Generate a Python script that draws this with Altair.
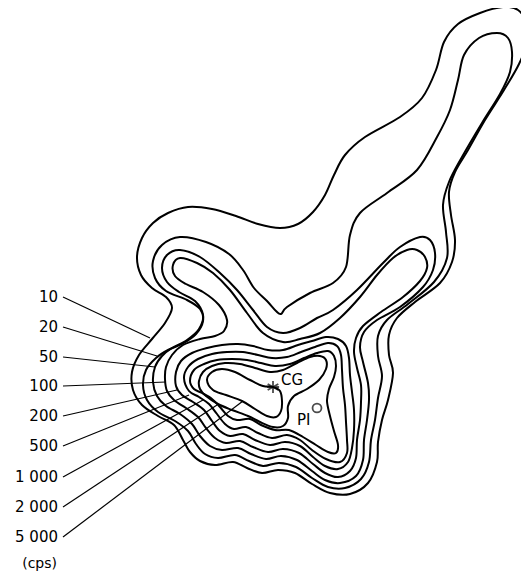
import altair as alt
import pandas as pd

# Contour traces (image pixel coordinates, x right, y down)
c10 = [(480,13),(503,7),(518,10),(527,24),(527,42),(519,64),(504,90),(485,120),(468,150),(455,172),(449,192),(451,215),(455,240),(452,262),(440,283),(415,302),(397,318),(389,335),(389,355),(393,373),(388,400),(382,420),(378,442),(377,462),(368,483),(350,494),(330,493),(312,484),(295,473),(278,470),(262,473),(247,468),(233,462),(215,465),(200,461),(190,452),(183,440),(174,425),(158,416),(142,405),(133,390),(132,372),(139,355),(152,339),(165,323),(172,308),(166,297),(152,288),(141,275),(137,257),(142,238),(153,223),(168,213),(188,207),(212,209),(236,216),(258,224),(280,228),(298,224),(313,212),(325,195),(334,175),(345,155),(365,137),(400,117),(422,98),(436,70),(444,42),(458,24)]
c20 = [(497,33),(508,38),(512,52),(510,72),(500,94),(482,123),(462,157),(449,182),(443,205),(446,232),(447,258),(434,282),(408,304),(387,320),(378,336),(378,356),(382,376),(378,398),(375,420),(371,440),(369,462),(361,479),(345,488),(328,487),(312,478),(296,467),(279,463),(263,466),(249,461),(235,455),(218,458),(205,454),(196,444),(188,431),(175,421),(158,412),(147,400),(143,385),(146,370),(156,358),(168,350),(182,344),(196,334),(203,321),(200,309),(187,300),(166,291),(155,278),(153,261),(162,245),(180,237),(206,242),(229,254),(243,270),(254,288),(267,301),(276,311),(281,314),(287,307),(310,293),(333,283),(346,267),(350,235),(360,213),(387,193),(417,170),(437,137),(450,110),(458,80),(464,55),(479,38)]
c50 = [(180,250),(200,257),(220,273),(237,290),(253,310),(267,327),(283,333),(300,328),(317,318),(333,310),(357,290),(383,263),(400,247),(420,237),(430,240),(435,253),(433,270),(423,287),(400,307),(377,320),(364,332),(360,347),(363,362),(368,383),(369,400),(367,420),(364,440),(363,460),(356,476),(340,483),(325,480),(312,471),(297,460),(281,456),(266,459),(251,454),(238,448),(222,450),(210,446),(200,436),(192,424),(180,414),(166,406),(157,396),(153,382),(155,367),(162,356),(172,348),(187,340),(199,329),(203,315),(195,301),(179,292),(167,282),(162,268),(167,255)]
c100 = [(180,258),(197,263),(213,273),(230,290),(247,313),(263,333),(283,342),(300,339),(320,333),(340,318),(360,297),(377,275),(393,258),(407,250),(417,250),(425,257),(427,268),(420,281),(403,297),(381,312),(363,326),(356,338),(354,352),(357,368),(361,385),(361,402),(360,420),(357,440),(356,458),(350,471),(338,477),(325,473),(313,464),(299,453),(283,449),(268,452),(253,447),(240,441),(226,443),(215,438),(206,428),(198,417),(186,408),(174,400),(167,391),(165,379),(166,367),(172,355),(183,345),(200,339),(215,336),(224,331),(227,320),(219,305),(203,292),(186,284),(175,276),(173,265)]
c200 = [(176,372),(181,361),(192,353),(207,348),(222,345),(238,344),(253,346),(268,350),(283,350),(298,345),(312,341),(326,337),(338,339),(346,346),(349,358),(350,375),(352,392),(354,410),(354,430),(352,448),(348,462),(338,469),(325,466),(313,457),(300,446),(285,442),(270,445),(255,440),(243,434),(230,436),(220,431),(212,421),(204,410),(193,402),(182,395),(176,386)]
c500 = [(184,378),(188,367),(198,359),(212,354),(227,352),(243,352),(258,355),(272,358),(287,357),(301,352),(315,347),(328,343),(337,346),(341,355),(342,370),(343,388),(345,405),(346,422),(347,440),(347,453),(340,462),(326,459),(312,450),(300,440),(287,435),(272,438),(258,433),(246,427),(234,429),(225,424),(217,414),(209,404),(199,397),(189,391)]
c1000 = [(190,381),(194,370),(204,364),(217,360),(232,359),(247,360),(261,363),(275,366),(290,364),(304,358),(317,353),(328,351),(334,356),(336,366),(334,377),(329,389),(327,401),(330,416),(334,431),(338,445),(336,453),(328,452),(316,445),(303,437),(289,430),(275,430),(261,425),(250,419),(237,420),(228,416),(220,407),(212,399),(202,393),(194,389)]
c2000 = [(199,381),(203,372),(212,366),(225,363),(240,364),(255,368),(270,372),(283,370),(297,363),(310,357),(320,356),(326,360),(326,369),(319,380),(307,389),(294,396),(288,406),(288,418),(283,426),(273,427),(260,422),(248,416),(232,410),(218,404),(206,396),(200,389)]
c5000 = [(207,380),(212,372),(222,369),(235,372),(250,380),(263,386),(273,387),(280,391),(282,401),(281,411),(276,417),(267,416),(255,409),(242,401),(226,395),(213,390)]

levels = ["10", "20", "50", "100", "200", "500", "1000", "2000", "5000"]
traces = [c10, c20, c50, c100, c200, c500, c1000, c2000, c5000]

# Legend labels and leader lines
label_text = ["10", "20", "50", "100", "200", "500", "1 000", "2 000", "5 000"]
label_y = [297, 327, 357, 386, 416, 446, 477, 507, 537]
leader_end_x = [150, 157, 155, 166, 177, 189, 203, 217, 243]
leader_end_y = [338, 356, 367, 382, 390, 395, 400, 405, 401]

rows = []
for lev, tr in zip(levels, traces):
    for i, (x, y) in enumerate(tr):
        rows.append({"level": lev, "i": i, "x": x, "y": y})
contours = pd.DataFrame(rows)

leg = pd.DataFrame({
    "label": label_text,
    "y": label_y,
    "x": [58] * len(label_text),
    "x0": [63] * len(label_text),
    "x1": leader_end_x,
    "y1": leader_end_y,
})

xs = alt.Scale(domain=[8, 521], nice=False, zero=False)
ys = alt.Scale(domain=[8, 574], nice=False, zero=False, reverse=True)
X = lambda f: alt.X(f, scale=xs, axis=None)
Y = lambda f: alt.Y(f, scale=ys, axis=None)

lines = alt.Chart(contours).mark_line(
    interpolate="cardinal-closed", color="black", strokeWidth=2
).encode(x=X("x:Q"), y=Y("y:Q"), detail="level:N", order="i:Q")

leaders = alt.Chart(leg).mark_rule(color="black", strokeWidth=1.2).encode(
    x=X("x0:Q"), y=Y("y:Q"), x2="x1:Q", y2="y1:Q"
)

labels = alt.Chart(leg).mark_text(
    align="right", baseline="middle", font="DejaVu Sans", fontSize=15, color="black"
).encode(x=X("x:Q"), y=Y("y:Q"), text="label:N")

notes_text = ["CG", "PI"]
notes_x = [281, 297]
notes_y = [380, 420]
notes = alt.Chart(pd.DataFrame({"t": notes_text, "x": notes_x, "y": notes_y})).mark_text(
    align="left", baseline="middle", font="DejaVu Sans", fontSize=15, color="black"
).encode(x=X("x:Q"), y=Y("y:Q"), text="t:N")

unit = alt.Chart(pd.DataFrame({"t": ["(cps)"], "x": [57], "y": [564]})).mark_text(
    align="right", baseline="middle", font="DejaVu Sans", fontSize=14, color="black"
).encode(x=X("x:Q"), y=Y("y:Q"), text="t:N")

star = alt.Chart(pd.DataFrame({"x": [273], "y": [387]})).mark_point(
    shape="M0,-1L0,1M-0.87,-0.5L0.87,0.5M-0.87,0.5L0.87,-0.5M-1,0L1,0",
    size=150, filled=False, color="black", strokeWidth=1.8
).encode(x=X("x:Q"), y=Y("y:Q"))

circ = alt.Chart(pd.DataFrame({"x": [317], "y": [408]})).mark_point(
    shape="circle", size=80, filled=False, color="black", strokeWidth=1.8
).encode(x=X("x:Q"), y=Y("y:Q"))

chart = alt.layer(lines, leaders, labels, notes, unit, star, circ).properties(
    width=513, height=566, padding=0, autosize=alt.AutoSizeParams(type="none")
).configure_view(stroke=None)

chart.save("out.html", embed_options={"renderer": "svg", "actions": False})
